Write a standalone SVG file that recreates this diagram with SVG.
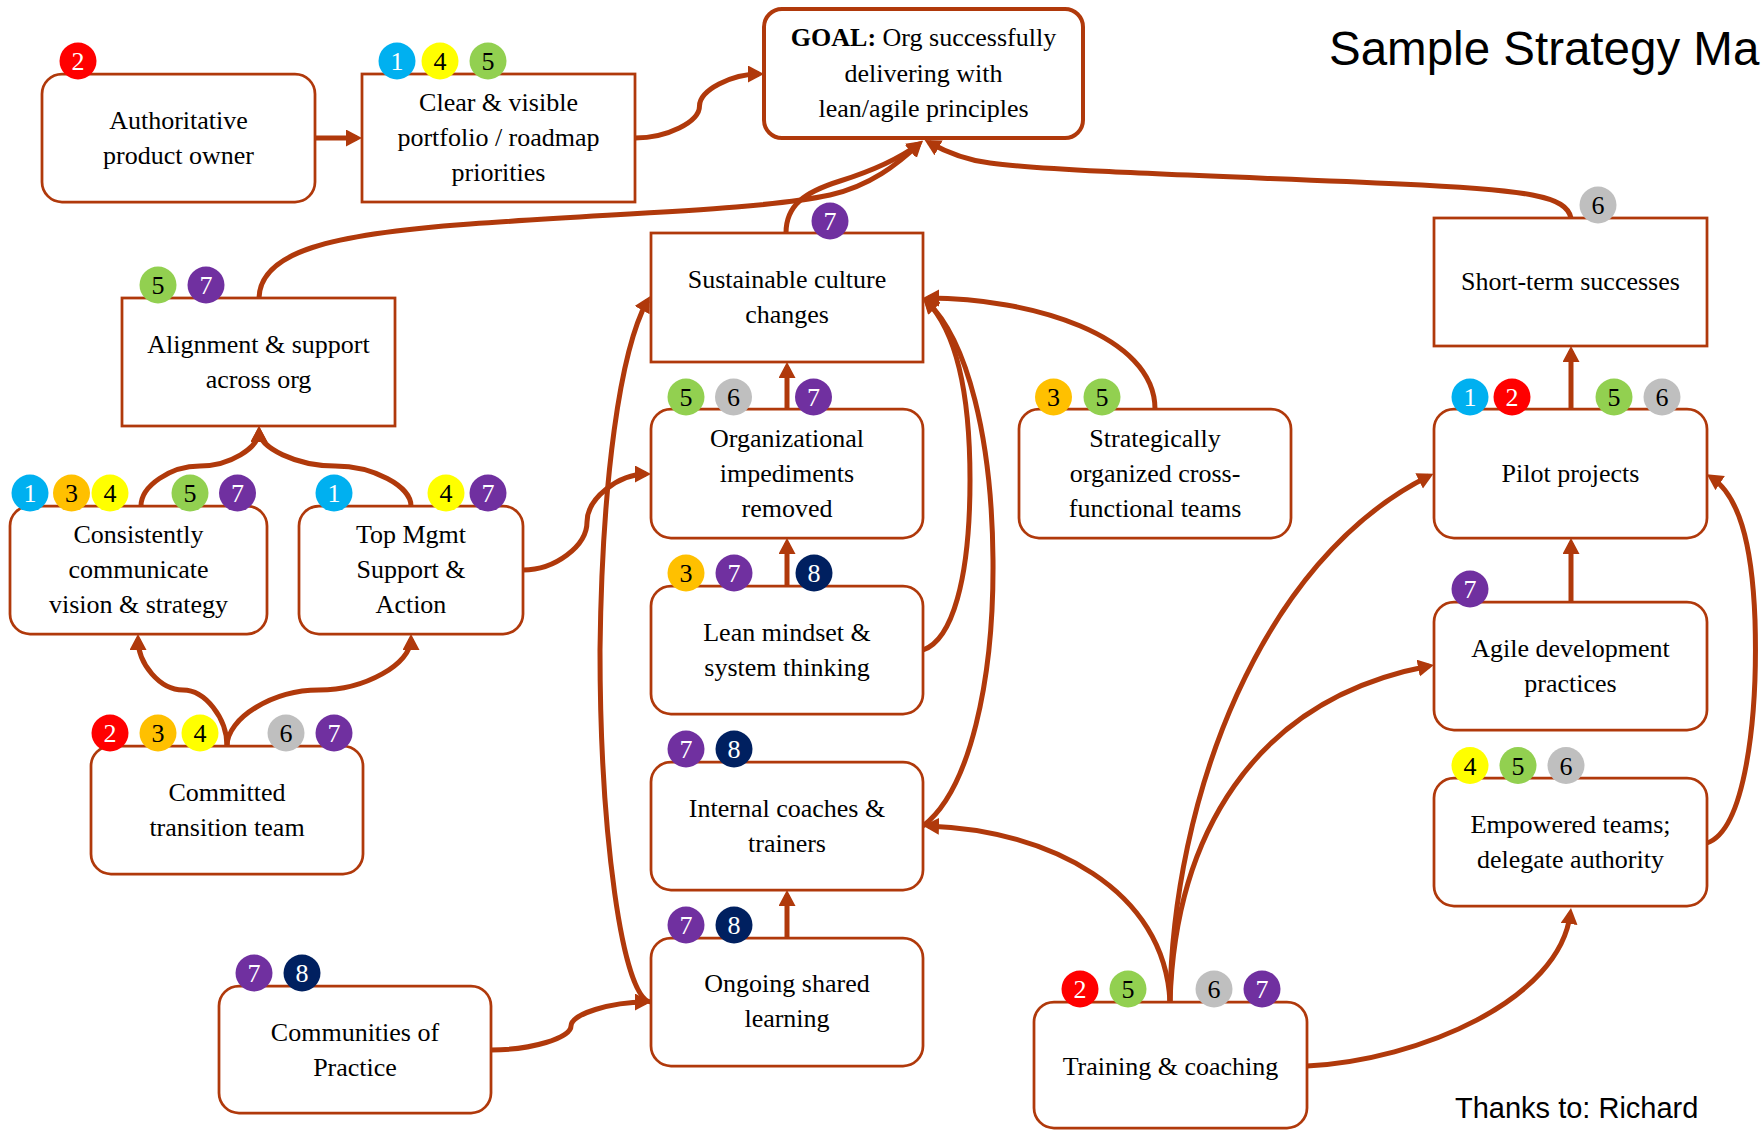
<svg xmlns="http://www.w3.org/2000/svg" width="1762" height="1130" viewBox="0 0 1762 1130">
  <defs>
    <style>
      .box { fill: #ffffff; stroke: #B0390B; stroke-width: 2.75; }
      .goal { stroke-width: 4; }
      .lbl { font-family: "Liberation Serif", "Times New Roman", serif; font-size: 26px; fill: #000000; text-anchor: middle; }
      .num { font-family: "Liberation Serif", "Times New Roman", serif; font-size: 26px; text-anchor: middle; }
      .tw { fill: #ffffff; }
      .tk { fill: #000000; }
      .c1 { fill: #00B0F0; }
      .c2 { fill: #FF0000; }
      .c3 { fill: #FFC000; }
      .c4 { fill: #FFFF00; }
      .c5 { fill: #92D050; }
      .c6 { fill: #BFBFBF; }
      .c7 { fill: #7030A0; }
      .c8 { fill: #002060; }
      .conn { fill: none; stroke: #B0390B; stroke-width: 5; marker-end: url(#ah); }
      .title { font-family: "Liberation Sans", Arial, sans-serif; fill: #000000; }
    </style>
    <marker id="ah" markerUnits="userSpaceOnUse" markerWidth="18" markerHeight="18" refX="11" refY="8.5" orient="auto">
      <path d="M0,0 L16,8.5 L0,17 Z" fill="#B0390B"/>
    </marker>
  </defs>

  <rect width="1762" height="1130" fill="#ffffff"/>

  <!-- connectors -->
  <g id="connectors">
    <path class="conn" d="M315,138 L357,138"/>
    <path class="conn" d="M635,138 C667,138 699.5,122 699.5,106 C699.5,90 731.75,74 759,74"/>
    <path class="conn" d="M259,298 C260,252 330,234 470,224 C620,213 760,210 830,195 C870,186 898,164 919,144"/>
    <path class="conn" d="M786,233 C786,205 805,192 840,181 C875,170 900,158 919,144"/>
    <path class="conn" d="M1571,218 C1566,196 1530,190 1400,184 C1250,177 1060,172 990,163 C965,160 946,152 929,142.5"/>
    <path class="conn" d="M141,506 C141,486 170.5,466 200,466 C229.5,466 259,448 259,431"/>
    <path class="conn" d="M411,506 C411,486 373,466 335,466 C297,466 259,448 259,431"/>
    <path class="conn" d="M227,746 C227,718 205,690 183,690 C160,690 138,664 138,639"/>
    <path class="conn" d="M227,746 C227,718 273,690 319,690 C365,690 411,664 411,639"/>
    <path class="conn" d="M523,570 C555,570 587,546 587,522 C587,498 619,474 646,474"/>
    <path class="conn" d="M491,1050 C531,1050 571,1038 571,1026 C571,1014 611,1002 646,1002"/>
    <path class="conn" d="M651,1002 C622,1000 600,830 600,650 C602,480 620,350 647.5,300.5"/>
    <path class="conn" d="M787,586 L787,543"/>
    <path class="conn" d="M787,409 L787,367"/>
    <path class="conn" d="M787,938 L787,895"/>
    <path class="conn" d="M923,650 C952,640 970,580 970,480 C970,390 955,330 926.5,301"/>
    <path class="conn" d="M923,826 C970,790 994,680 993,560 C992,440 968,340 926.5,301"/>
    <path class="conn" d="M1155,409 C1155,335 1030,298 928,298"/>
    <path class="conn" d="M1571,409 L1571,351"/>
    <path class="conn" d="M1571,602 L1571,543"/>
    <path class="conn" d="M1707,843 C1745,830 1758,720 1755,620 C1752,540 1738,495 1711,477"/>
    <path class="conn" d="M1170,1002 C1165,890 1050,830 928,826"/>
    <path class="conn" d="M1170,1002 C1172,800 1260,560 1429,476"/>
    <path class="conn" d="M1170,1002 C1175,840 1250,700 1429,666"/>
    <path class="conn" d="M1307,1066 C1420,1060 1560,1000 1570.4,913"/>
  </g>

  <!-- nodes -->
  <g id="authoritative-owner">
    <rect class="box" x="42" y="74" width="273" height="128" rx="20"/>
    <text class="lbl"><tspan x="178.5" y="128.5">Authoritative</tspan><tspan x="178.5" y="163.5">product owner</tspan></text>
    <circle class="c2" cx="78" cy="61" r="18.5"/><text class="num tw" x="78" y="70">2</text>
  </g>

  <g id="clear-portfolio">
    <rect class="box" x="362" y="74" width="273" height="128"/>
    <text class="lbl"><tspan x="498.5" y="111">Clear &amp; visible</tspan><tspan x="498.5" y="146">portfolio / roadmap</tspan><tspan x="498.5" y="181">priorities</tspan></text>
    <circle class="c1" cx="397" cy="61" r="18.5"/><text class="num tw" x="397" y="70">1</text>
    <circle class="c4" cx="440" cy="61" r="18.5"/><text class="num tk" x="440" y="70">4</text>
    <circle class="c5" cx="488" cy="61" r="18.5"/><text class="num tk" x="488" y="70">5</text>
  </g>

  <g id="goal">
    <rect class="box goal" x="764" y="9" width="319" height="129" rx="18"/>
    <text class="lbl"><tspan x="923.5" y="46"><tspan font-weight="bold">GOAL:</tspan> Org successfully</tspan><tspan x="923.5" y="82">delivering with</tspan><tspan x="923.5" y="117">lean/agile principles</tspan></text>
  </g>

  <g id="alignment">
    <rect class="box" x="122" y="298" width="273" height="128"/>
    <text class="lbl"><tspan x="258.5" y="352.5">Alignment &amp; support</tspan><tspan x="258.5" y="387.5">across org</tspan></text>
    <circle class="c5" cx="158" cy="285" r="18.5"/><text class="num tk" x="158" y="294">5</text>
    <circle class="c7" cx="206" cy="285" r="18.5"/><text class="num tw" x="206" y="294">7</text>
  </g>

  <g id="communicate-vision">
    <rect class="box" x="10" y="506" width="257" height="128" rx="20"/>
    <text class="lbl"><tspan x="138.5" y="543">Consistently</tspan><tspan x="138.5" y="578">communicate</tspan><tspan x="138.5" y="613">vision &amp; strategy</tspan></text>
    <circle class="c1" cx="30" cy="493" r="18.5"/><text class="num tw" x="30" y="502">1</text>
    <circle class="c3" cx="71.5" cy="493" r="18.5"/><text class="num tk" x="71.5" y="502">3</text>
    <circle class="c4" cx="110" cy="493" r="18.5"/><text class="num tk" x="110" y="502">4</text>
    <circle class="c5" cx="190" cy="493" r="18.5"/><text class="num tk" x="190" y="502">5</text>
    <circle class="c7" cx="237.5" cy="493" r="18.5"/><text class="num tw" x="237.5" y="502">7</text>
  </g>

  <g id="top-mgmt">
    <rect class="box" x="299" y="506" width="224" height="128" rx="20"/>
    <text class="lbl"><tspan x="411" y="543">Top Mgmt</tspan><tspan x="411" y="578">Support &amp;</tspan><tspan x="411" y="613">Action</tspan></text>
    <circle class="c1" cx="334" cy="493" r="18.5"/><text class="num tw" x="334" y="502">1</text>
    <circle class="c4" cx="446" cy="493" r="18.5"/><text class="num tk" x="446" y="502">4</text>
    <circle class="c7" cx="488" cy="493" r="18.5"/><text class="num tw" x="488" y="502">7</text>
  </g>

  <g id="transition-team">
    <rect class="box" x="91" y="746" width="272" height="128" rx="20"/>
    <text class="lbl"><tspan x="227" y="800.5">Committed</tspan><tspan x="227" y="835.5">transition team</tspan></text>
    <circle class="c2" cx="110" cy="733" r="18.5"/><text class="num tw" x="110" y="742">2</text>
    <circle class="c3" cx="158" cy="733" r="18.5"/><text class="num tk" x="158" y="742">3</text>
    <circle class="c4" cx="200" cy="733" r="18.5"/><text class="num tk" x="200" y="742">4</text>
    <circle class="c6" cx="286" cy="733" r="18.5"/><text class="num tk" x="286" y="742">6</text>
    <circle class="c7" cx="334" cy="733" r="18.5"/><text class="num tw" x="334" y="742">7</text>
  </g>

  <g id="communities">
    <rect class="box" x="219" y="986" width="272" height="127" rx="20"/>
    <text class="lbl"><tspan x="355" y="1040.5">Communities of</tspan><tspan x="355" y="1075.5">Practice</tspan></text>
    <circle class="c7" cx="254" cy="973" r="18.5"/><text class="num tw" x="254" y="982">7</text>
    <circle class="c8" cx="302" cy="973" r="18.5"/><text class="num tw" x="302" y="982">8</text>
  </g>

  <g id="culture-changes">
    <rect class="box" x="651" y="233" width="272" height="129"/>
    <text class="lbl"><tspan x="787" y="288">Sustainable culture</tspan><tspan x="787" y="323">changes</tspan></text>
    <circle class="c7" cx="830" cy="221" r="18.5"/><text class="num tw" x="830" y="230">7</text>
  </g>

  <g id="impediments">
    <rect class="box" x="651" y="409" width="272" height="129" rx="20"/>
    <text class="lbl"><tspan x="787" y="447">Organizational</tspan><tspan x="787" y="482">impediments</tspan><tspan x="787" y="517">removed</tspan></text>
    <circle class="c5" cx="686" cy="397" r="18.5"/><text class="num tk" x="686" y="406">5</text>
    <circle class="c6" cx="733.5" cy="397" r="18.5"/><text class="num tk" x="733.5" y="406">6</text>
    <circle class="c7" cx="813.5" cy="397" r="18.5"/><text class="num tw" x="813.5" y="406">7</text>
  </g>

  <g id="lean-mindset">
    <rect class="box" x="651" y="586" width="272" height="128" rx="20"/>
    <text class="lbl"><tspan x="787" y="640.5">Lean mindset &amp;</tspan><tspan x="787" y="675.5">system thinking</tspan></text>
    <circle class="c3" cx="686" cy="573" r="18.5"/><text class="num tk" x="686" y="582">3</text>
    <circle class="c7" cx="734" cy="573" r="18.5"/><text class="num tw" x="734" y="582">7</text>
    <circle class="c8" cx="814" cy="573" r="18.5"/><text class="num tw" x="814" y="582">8</text>
  </g>

  <g id="internal-coaches">
    <rect class="box" x="651" y="762" width="272" height="128" rx="20"/>
    <text class="lbl"><tspan x="787" y="816.5">Internal coaches &amp;</tspan><tspan x="787" y="851.5">trainers</tspan></text>
    <circle class="c7" cx="686" cy="749" r="18.5"/><text class="num tw" x="686" y="758">7</text>
    <circle class="c8" cx="734" cy="749" r="18.5"/><text class="num tw" x="734" y="758">8</text>
  </g>

  <g id="shared-learning">
    <rect class="box" x="651" y="938" width="272" height="128" rx="20"/>
    <text class="lbl"><tspan x="787" y="992">Ongoing shared</tspan><tspan x="787" y="1027">learning</tspan></text>
    <circle class="c7" cx="686" cy="925" r="18.5"/><text class="num tw" x="686" y="934">7</text>
    <circle class="c8" cx="734" cy="925" r="18.5"/><text class="num tw" x="734" y="934">8</text>
  </g>

  <g id="cross-functional-teams">
    <rect class="box" x="1019" y="409" width="272" height="129" rx="20"/>
    <text class="lbl"><tspan x="1155" y="447">Strategically</tspan><tspan x="1155" y="482">organized cross-</tspan><tspan x="1155" y="517">functional teams</tspan></text>
    <circle class="c3" cx="1053.5" cy="397" r="18.5"/><text class="num tk" x="1053.5" y="406">3</text>
    <circle class="c5" cx="1102" cy="397" r="18.5"/><text class="num tk" x="1102" y="406">5</text>
  </g>

  <g id="training-coaching">
    <rect class="box" x="1034" y="1002" width="273" height="126" rx="20"/>
    <text class="lbl"><tspan x="1170.5" y="1074.5">Training &amp; coaching</tspan></text>
    <circle class="c2" cx="1080" cy="989" r="18.5"/><text class="num tw" x="1080" y="998">2</text>
    <circle class="c5" cx="1128" cy="989" r="18.5"/><text class="num tk" x="1128" y="998">5</text>
    <circle class="c6" cx="1214" cy="989" r="18.5"/><text class="num tk" x="1214" y="998">6</text>
    <circle class="c7" cx="1262" cy="989" r="18.5"/><text class="num tw" x="1262" y="998">7</text>
  </g>

  <g id="short-term-successes">
    <rect class="box" x="1434" y="218" width="273" height="128"/>
    <text class="lbl"><tspan x="1570.5" y="290">Short-term successes</tspan></text>
    <circle class="c6" cx="1598" cy="205" r="18.5"/><text class="num tk" x="1598" y="214">6</text>
  </g>

  <g id="pilot-projects">
    <rect class="box" x="1434" y="409" width="273" height="129" rx="20"/>
    <text class="lbl"><tspan x="1570.5" y="482">Pilot projects</tspan></text>
    <circle class="c1" cx="1470" cy="397" r="18.5"/><text class="num tw" x="1470" y="406">1</text>
    <circle class="c2" cx="1512" cy="397" r="18.5"/><text class="num tw" x="1512" y="406">2</text>
    <circle class="c5" cx="1614" cy="397" r="18.5"/><text class="num tk" x="1614" y="406">5</text>
    <circle class="c6" cx="1662" cy="397" r="18.5"/><text class="num tk" x="1662" y="406">6</text>
  </g>

  <g id="agile-practices">
    <rect class="box" x="1434" y="602" width="273" height="128" rx="20"/>
    <text class="lbl"><tspan x="1570.5" y="657">Agile development</tspan><tspan x="1570.5" y="691.5">practices</tspan></text>
    <circle class="c7" cx="1470" cy="589" r="18.5"/><text class="num tw" x="1470" y="598">7</text>
  </g>

  <g id="empowered-teams">
    <rect class="box" x="1434" y="778" width="273" height="128" rx="20"/>
    <text class="lbl"><tspan x="1570.5" y="832.5">Empowered teams;</tspan><tspan x="1570.5" y="867.5">delegate authority</tspan></text>
    <circle class="c4" cx="1470" cy="765.5" r="18.5"/><text class="num tk" x="1470" y="774.5">4</text>
    <circle class="c5" cx="1518" cy="765.5" r="18.5"/><text class="num tk" x="1518" y="774.5">5</text>
    <circle class="c6" cx="1566" cy="765.5" r="18.5"/><text class="num tk" x="1566" y="774.5">6</text>
  </g>

  <!-- heading and credit -->
  <text class="title" x="1329" y="65" font-size="47.5">Sample Strategy Ma</text>
  <text class="title" x="1455" y="1118" font-size="29">Thanks to: Richard</text>
</svg>
